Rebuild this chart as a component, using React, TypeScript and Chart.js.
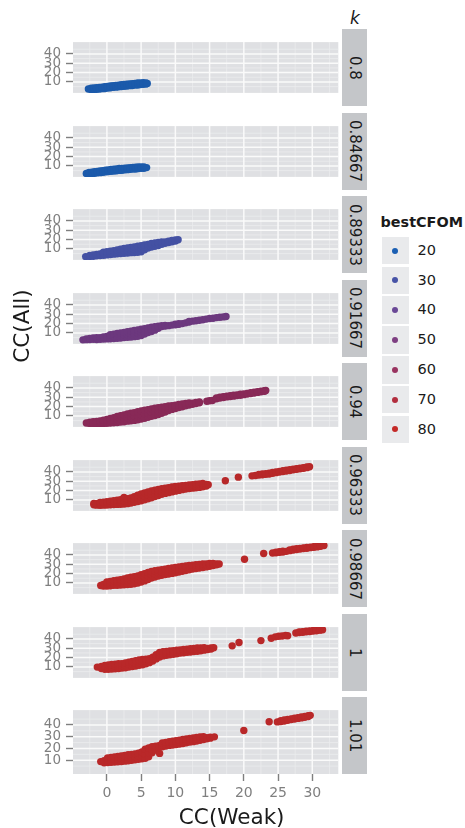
import React, { useEffect, useRef } from "react";
import { Chart, registerables } from "chart.js";
Chart.register(...registerables);

// ---- data (rows: [CC(Weak), CC(All) values...]) ----
const kLabels = ["0.8", "0.84667", "0.89333", "0.91667", "0.94", "0.96333", "0.98667", "1", "1.01"];
const panelColors = ["#1b5aab", "#1b5aab", "#4451a3", "#6c387e", "#882957", "#b72829", "#b92829", "#b92829", "#b92829"];
const xTicks = [0, 5, 10, 15, 20, 25, 30];
const yTicks = [10, 20, 30, 40];
const legendValues = ["20", "30", "40", "50", "60", "70", "80"];
const legendColors = ["#1b5fb3", "#4753a6", "#6a4896", "#7e3f82", "#993360", "#b22e3e", "#c42a28"];

const k0800 = [
  [-2.7, 2.4], [-2.3, 1.8, 3.2], [-1.9, 2.0, 3.6], [-1.5, 2.2, 3.8], [-1.1, 2.4, 4.2], [-0.7, 2.8, 4.4],
  [-0.3, 3.0, 4.8], [0.1, 3.4, 5.2], [0.5, 3.8, 5.6], [0.9, 4.2, 6.0], [1.3, 4.4, 6.2], [1.7, 4.8, 6.6],
  [2.1, 5.0, 7.0], [2.5, 5.4, 7.2], [2.9, 5.6, 7.6], [3.3, 6.0, 7.8], [3.7, 6.2, 8.2], [4.1, 6.6, 8.4],
  [4.5, 6.8, 8.8], [4.9, 7.2, 9.0], [5.3, 7.4, 9.2], [5.7, 7.8, 8.8], [5.9, 8.4],
];
const k0847 = [
  [-3.0, 2.0], [-2.6, 1.8, 3.0], [-2.2, 2.0, 3.4], [-1.8, 2.2, 3.8], [-1.4, 2.6, 4.2], [-1.0, 2.8, 4.6],
  [-0.6, 3.2, 5.0], [-0.2, 3.6, 5.4], [0.2, 4.0, 5.8], [0.6, 4.2, 6.2], [1.0, 4.6, 6.6], [1.4, 4.8, 6.8],
  [1.8, 5.2, 7.2], [2.2, 5.4, 7.4], [2.6, 5.8, 7.6], [3.0, 6.0, 7.8], [3.4, 6.4, 8.0], [3.8, 6.6, 8.4],
  [4.2, 6.8, 8.6], [4.6, 7.2, 8.8], [5.0, 7.4, 9.0], [5.4, 7.6, 8.8], [5.8, 8.2],
];
const k0893 = [
  [-3.1, 1.8], [-2.5, 2.0, 3.0], [-2.0, 2.2, 3.6], [-1.5, 2.6, 4.0], [-1.0, 3.0, 4.6], [-0.5, 3.2, 5.0, 6.5],
  [0.0, 3.6, 5.4, 7.0], [0.5, 4.0, 6.0, 7.5], [1.0, 4.4, 6.4, 8.2], [1.5, 4.8, 7.0, 8.8], [2.0, 5.0, 7.4, 9.6],
  [2.5, 5.4, 8.0, 10.4], [3.0, 5.6, 8.4, 11.0], [3.5, 6.0, 9.0, 11.6], [4.0, 6.2, 9.4, 12.2],
  [4.5, 6.4, 10.0, 13.0], [5.0, 7.0, 10.4, 13.6], [5.5, 9.2, 12.0, 14.2], [6.0, 11.0, 13.4, 14.8],
  [6.5, 12.0, 14.4, 15.8], [7.0, 12.8, 15.0, 16.4], [7.5, 13.6, 15.6, 17.0], [8.0, 15.0, 16.6, 17.6],
  [8.5, 16.0, 17.6], [9.0, 16.8, 18.4], [9.5, 17.6, 19.0], [10.0, 18.4, 19.6], [10.4, 19.8],
];
const k0917 = [
  [-3.5, 2.6], [-3.0, 2.8, 3.6], [-2.5, 3.0, 4.2], [-2.0, 3.2, 4.6], [-1.5, 3.0, 4.8], [-1.0, 3.2, 5.0],
  [-0.5, 3.4, 5.6], [0.0, 3.6, 6.2], [0.5, 3.8, 6.6, 8.0], [1.0, 4.0, 6.8, 8.6], [1.5, 4.2, 7.0, 9.4],
  [2.0, 4.6, 7.6, 10.0], [2.5, 5.0, 8.0, 10.6], [3.0, 5.4, 8.4, 11.2], [3.5, 5.6, 9.0, 11.8],
  [4.0, 6.0, 9.4, 12.6], [4.5, 6.4, 10.0, 13.2], [5.0, 7.2, 10.6, 14.0], [5.5, 8.8, 11.6, 14.6],
  [6.0, 10.4, 12.6, 15.4], [6.5, 11.6, 13.6, 16.2], [7.0, 13.0, 14.8, 16.8], [7.5, 15.0, 17.2],
  [8.0, 16.8, 17.8], [8.5, 17.4, 18.0], [9.0, 17.8], [9.5, 18.4], [10.0, 18.8, 19.4], [10.5, 19.2, 19.8],
  [11.0, 20.0], [11.5, 20.8], [12.0, 21.6, 22.2], [12.5, 22.6], [13.0, 23.0], [13.5, 23.6], [14.0, 24.2],
  [14.5, 24.8], [15.0, 25.4], [15.5, 25.8], [16.0, 26.4], [16.5, 26.8], [17.0, 27.2], [17.4, 27.6],
];
const k0940 = [
  [-3.0, 2.4], [-2.5, 2.0, 3.4], [-2.0, 1.8, 3.8], [-1.5, 2.0, 4.2], [-1.0, 1.8, 3.0, 4.6], [-0.5, 2.0, 3.6, 5.4],
  [0.0, 2.2, 4.2, 6.2], [0.5, 2.4, 4.8, 7.2], [1.0, 2.6, 5.4, 8.2], [1.5, 3.0, 6.2, 9.4], [2.0, 3.4, 6.8, 10.2],
  [2.5, 3.8, 7.6, 11.0], [3.0, 4.4, 8.4, 12.0], [3.5, 4.8, 9.2, 12.8], [4.0, 5.2, 9.8, 13.6],
  [4.5, 5.8, 10.6, 14.6], [5.0, 6.6, 11.4, 15.4], [5.5, 7.6, 12.4, 16.2], [6.0, 8.6, 13.2, 16.8],
  [6.5, 9.6, 14.0, 17.6], [7.0, 10.4, 14.6, 18.2], [7.5, 11.6, 15.6, 18.8], [8.0, 12.8, 16.4, 19.4],
  [8.5, 14.2, 17.2, 20.0], [9.0, 15.8, 18.2, 20.6], [9.5, 17.0, 19.0, 21.0], [10.0, 18.0, 20.0, 21.6],
  [10.5, 19.0, 20.6, 22.2], [11.0, 19.8, 21.4, 22.8], [11.5, 20.8, 22.2, 23.4], [12.0, 21.6, 23.0, 24.0],
  [12.5, 22.4, 23.6], [13.0, 23.2, 24.4], [13.5, 24.0, 25.0], [14.6, 25.8], [15.0, 26.2], [15.4, 26.6],
  [16.0, 28.4, 29.2], [16.5, 29.2, 30.0], [17.0, 29.8, 30.6], [17.5, 30.4, 31.2], [18.0, 30.8, 31.6],
  [18.5, 31.2, 32.2], [19.0, 31.8, 32.6], [19.5, 32.2, 33.2], [20.0, 32.8, 33.6], [20.5, 33.4, 34.2],
  [21.0, 34.0, 34.8], [21.5, 34.6, 35.4], [22.0, 35.2, 36.0], [22.5, 35.8, 36.6], [23.0, 36.4, 37.0], [23.2, 37.2],
];
const k0963 = [
  [-1.9, 4.8, 6.2], [-1.5, 4.4, 6.0], [-1.0, 4.2, 5.8, 7.4], [-0.5, 4.4, 6.0, 7.6], [0.0, 4.6, 6.4, 8.2],
  [0.5, 4.8, 6.8, 8.6], [1.0, 5.0, 7.2, 9.2], [1.5, 5.2, 7.6, 9.6], [2.0, 5.4, 8.0, 10.2], [2.5, 5.6, 8.6, 12.6],
  [3.0, 6.0, 9.0, 11.2], [3.5, 6.6, 9.8, 12.0], [4.0, 7.4, 10.8, 13.4], [4.5, 8.2, 12.0, 15.0],
  [5.0, 9.2, 13.2, 16.4], [5.5, 10.2, 14.2, 17.6], [6.0, 11.2, 15.0, 18.6], [6.5, 12.4, 16.0, 19.6],
  [7.0, 13.6, 17.0, 20.4], [7.5, 14.8, 18.0, 21.2], [8.0, 16.0, 19.0, 22.0], [8.5, 17.0, 19.8, 22.6],
  [9.0, 17.8, 20.6, 23.2], [9.5, 18.6, 21.2, 23.8], [10.0, 19.4, 21.8, 24.4], [10.5, 20.2, 22.4, 24.8],
  [11.0, 21.0, 23.0, 25.2], [11.5, 21.6, 23.6, 25.6], [12.0, 22.2, 24.2, 26.0], [12.5, 22.6, 24.6, 26.4],
  [13.0, 23.0, 25.0, 26.8], [13.5, 23.4, 25.4, 27.2], [14.0, 24.0, 25.8, 27.6], [14.5, 25.0, 26.6], [14.8, 26.2],
  [17.3, 30.5], [19.2, 34.4], [21.2, 35.8], [21.7, 36.2], [22.2, 36.6, 37.4], [22.7, 37.0, 37.8],
  [23.2, 37.4, 38.2], [23.7, 37.8, 38.6], [24.2, 38.6, 39.4], [24.7, 39.2, 40.0], [25.2, 39.8, 40.6],
  [25.7, 40.4, 41.2], [26.2, 41.0, 41.8], [26.7, 41.6, 42.4], [27.2, 42.2, 43.0], [27.7, 42.8, 43.4],
  [28.2, 43.4, 44.0], [28.7, 44.0, 44.6], [29.2, 44.6, 45.2], [29.6, 45.6],
];
const k0987 = [
  [-0.9, 7.2], [-0.5, 6.6, 8.4], [0.0, 6.8, 9.2, 11.0], [0.5, 7.0, 9.6, 11.6], [1.0, 7.4, 10.0, 12.4],
  [1.5, 7.6, 10.6, 13.0], [2.0, 7.8, 11.2, 13.6], [2.5, 8.0, 11.8, 14.4], [3.0, 8.2, 12.4, 15.4],
  [3.5, 8.6, 13.0, 16.2], [4.0, 9.2, 13.6, 16.8], [4.5, 10.0, 14.4, 17.6], [5.0, 11.0, 15.4, 18.8],
  [5.5, 12.2, 16.6, 20.0], [6.0, 13.6, 17.8, 21.2], [6.5, 15.2, 18.8, 22.2], [7.0, 16.4, 19.8, 23.0],
  [7.5, 17.4, 20.6, 23.6], [8.0, 18.2, 21.4, 24.2], [8.5, 19.0, 22.2, 24.8], [9.0, 19.6, 22.8, 25.4],
  [9.5, 20.2, 23.4, 26.0], [10.0, 20.8, 24.0, 26.6], [10.5, 21.6, 24.6, 27.2], [11.0, 22.4, 25.2, 27.6],
  [11.5, 23.2, 25.8, 28.2], [12.0, 24.0, 26.4, 28.6], [12.5, 24.8, 27.0, 29.0], [13.0, 25.4, 27.6, 29.4],
  [13.5, 26.0, 28.0, 29.8], [14.0, 26.6, 28.4, 30.2], [14.5, 27.2, 28.8, 30.4], [15.0, 27.8, 29.2, 30.8],
  [15.5, 28.6, 29.8, 31.0], [16.0, 29.4, 30.4], [16.4, 30.2],
  [20.1, 35.3], [22.9, 41.6], [24.2, 42.0], [24.7, 42.4, 43.0], [25.2, 42.8, 43.4], [25.7, 43.2, 44.0],
  [26.2, 43.8], [26.7, 44.6, 45.4], [27.2, 45.2, 46.0], [27.7, 45.8, 46.6], [28.2, 46.4, 47.0],
  [28.7, 46.8, 47.6], [29.2, 47.2, 48.0], [29.7, 47.8, 48.4], [30.2, 48.2, 48.8], [30.7, 48.6, 49.4],
  [31.2, 49.2, 49.8], [31.7, 50.0],
];
const k1000 = [
  [-1.4, 9.8], [-0.8, 8.2, 10.4], [-0.3, 7.6, 9.8, 11.6], [0.2, 7.4, 10.0, 12.0], [0.7, 7.8, 10.4, 12.6],
  [1.2, 8.0, 10.8, 13.0], [1.7, 8.4, 11.2, 13.4], [2.2, 8.8, 11.6, 13.6], [2.7, 9.2, 12.2, 14.2],
  [3.2, 9.8, 12.8, 15.0], [3.7, 10.4, 13.4, 15.8], [4.2, 11.0, 14.0, 16.6], [4.7, 11.8, 14.8, 17.4],
  [5.2, 12.4, 15.4, 18.0], [5.7, 13.4, 16.2, 18.4], [6.2, 14.6, 17.0, 18.8], [6.7, 16.4, 18.4, 20.4],
  [7.2, 18.6, 20.6, 23.0], [7.7, 20.6, 22.8, 25.4], [8.2, 21.8, 24.0, 26.2], [8.7, 22.4, 24.6, 26.6],
  [9.2, 23.0, 25.0, 27.0], [9.7, 23.6, 25.6, 27.4], [10.2, 24.2, 26.0, 27.8], [10.7, 24.8, 26.6, 28.2],
  [11.2, 25.2, 27.0, 28.6], [11.7, 25.6, 27.4, 29.0], [12.2, 26.0, 27.8, 29.4], [12.7, 26.4, 28.2, 29.8],
  [13.2, 26.8, 28.6, 30.2], [13.7, 27.4, 29.0, 30.4], [14.2, 28.0, 29.4, 30.6], [14.7, 28.6, 29.8],
  [15.2, 29.2, 30.2], [15.6, 30.5],
  [18.3, 32.6], [19.3, 36.1], [22.5, 38.2], [24.0, 40.8], [24.6, 42.2], [25.1, 42.8], [25.6, 43.2],
  [26.1, 43.6], [26.4, 43.4], [27.6, 46.4], [28.1, 46.8, 47.4], [28.6, 47.2, 47.8], [29.1, 47.6, 48.2],
  [29.6, 48.0, 48.6], [30.1, 48.4, 49.0], [30.6, 48.8, 49.4], [31.1, 49.4, 49.8], [31.5, 49.8],
];
const k1010 = [
  [-0.9, 8.8], [-0.4, 7.8, 9.6], [0.1, 8.0, 10.2, 12.0], [0.6, 8.2, 10.4, 12.4], [1.1, 8.4, 10.8, 12.8],
  [1.6, 8.6, 11.2, 13.2], [2.1, 8.8, 11.6, 13.6], [2.6, 9.2, 12.0, 14.0], [3.1, 9.6, 12.4, 14.6],
  [3.6, 10.0, 12.8, 15.0], [4.1, 10.4, 13.2, 15.4], [4.6, 10.8, 13.6, 16.0], [5.1, 11.2, 14.2, 17.0],
  [5.6, 11.6, 15.0, 19.4], [6.1, 13.0, 16.6, 20.4], [6.6, 16.4, 18.8, 21.4], [7.1, 18.6, 20.4, 22.0],
  [7.7, 15.8], [7.6, 20.8, 22.4], [8.1, 21.4, 23.0, 24.6], [8.6, 22.0, 23.6, 25.2], [9.1, 22.6, 24.2, 25.8],
  [9.6, 23.0, 24.8, 26.2], [10.1, 23.4, 25.2, 26.6], [10.6, 23.8, 25.6, 27.0], [11.1, 24.2, 26.0, 27.6],
  [11.6, 24.8, 26.6, 28.0], [12.1, 25.4, 27.0, 28.6], [12.6, 25.8, 27.4, 29.0], [13.1, 26.4, 27.8, 29.4],
  [13.6, 27.0, 28.4, 29.8], [14.1, 27.6, 28.8, 30.0], [14.6, 28.2, 29.2], [15.1, 28.8, 29.6], [15.7, 29.9],
  [20.0, 35.3], [23.7, 42.8], [24.9, 42.6], [25.4, 43.0, 43.6], [25.9, 43.4, 44.2], [26.4, 44.0, 44.6],
  [26.9, 44.6, 45.2], [27.4, 45.0, 45.8], [27.9, 45.6, 46.2], [28.4, 46.0, 46.8], [28.9, 46.6, 47.2],
  [29.4, 47.2, 47.8], [29.7, 48.2],
];
const panelData = [k0800, k0847, k0893, k0917, k0940, k0963, k0987, k1000, k1010];

// ---- axis ranges / grid ----
const X_MIN = -4.95, X_MAX = 33.8;
const Y_MIN = -1.74, Y_MAX = 52.66;
const xMinor = [-2.5, 2.5, 7.5, 12.5, 17.5, 22.5, 27.5, 32.5];
const yMinor = [5, 15, 25, 35, 45];

// ---- layout ----
const PANEL_LEFT = 73;
const PANEL_RIGHT = 342;
const PANEL_TOP0 = 29.3;
const PANEL_PITCH = 83.5;
const PANEL_H = 77;
const X_AXIS_H = 36;
const TICK_GREY = "#7f7f7f";
const FONT = "'DejaVu Sans', sans-serif";

const bgPlugin = {
  id: "panelBg",
  beforeDraw(chart: any) {
    const { ctx, chartArea: a, scales } = chart;
    const xs = scales.x, ys = scales.y;
    ctx.save();
    ctx.fillStyle = "#dfe0e3";
    ctx.fillRect(a.left, a.top, a.right - a.left, a.bottom - a.top);
    ctx.strokeStyle = "#ebecee";
    ctx.lineWidth = 0.8;
    ctx.beginPath();
    xMinor.forEach((v) => { const p = xs.getPixelForValue(v); ctx.moveTo(p, a.top); ctx.lineTo(p, a.bottom); });
    yMinor.forEach((v) => { const p = ys.getPixelForValue(v); ctx.moveTo(a.left, p); ctx.lineTo(a.right, p); });
    ctx.stroke();
    ctx.strokeStyle = "#fafafa";
    ctx.lineWidth = 1.5;
    ctx.beginPath();
    xTicks.forEach((v) => { const p = xs.getPixelForValue(v); ctx.moveTo(p, a.top); ctx.lineTo(p, a.bottom); });
    yTicks.forEach((v) => { const p = ys.getPixelForValue(v); ctx.moveTo(a.left, p); ctx.lineTo(a.right, p); });
    ctx.stroke();
    ctx.restore();
  },
};

function Panel({ index }: { index: number }) {
  const ref = useRef<HTMLCanvasElement>(null);
  const showX = index === panelData.length - 1;
  const h = PANEL_H + (showX ? X_AXIS_H : 0);
  const top = PANEL_TOP0 + PANEL_PITCH * index;
  useEffect(() => {
    const pts: { x: number; y: number }[] = [];
    panelData[index].forEach((r) => {
      for (let j = 1; j < r.length; j++) pts.push({ x: r[0], y: r[j] });
    });
    const chart = new Chart(ref.current as HTMLCanvasElement, {
      type: "scatter",
      data: {
        datasets: [
          {
            data: pts,
            backgroundColor: panelColors[index],
            borderWidth: 0,
            pointRadius: 3.7,
            pointHoverRadius: 3.7,
          },
        ],
      },
      options: {
        animation: false,
        responsive: false,
        events: [],
        layout: { padding: 0 },
        plugins: { legend: { display: false }, tooltip: { enabled: false } },
        scales: {
          x: {
            type: "linear",
            min: X_MIN,
            max: X_MAX,
            display: showX,
            afterBuildTicks: (s: any) => { s.ticks = xTicks.map((v) => ({ value: v })); },
            afterFit: (s: any) => { s.height = showX ? X_AXIS_H : 0; },
            grid: { drawOnChartArea: false, drawTicks: true, tickLength: 7, tickColor: TICK_GREY, tickWidth: 1.4 },
            border: { display: false },
            ticks: { color: TICK_GREY, font: { family: FONT, size: 14 }, padding: 4, maxRotation: 0, autoSkip: false },
          },
          y: {
            type: "linear",
            min: Y_MIN,
            max: Y_MAX,
            afterBuildTicks: (s: any) => { s.ticks = yTicks.map((v) => ({ value: v })); },
            afterFit: (s: any) => { s.width = PANEL_LEFT; },
            grid: { drawOnChartArea: false, drawTicks: true, tickLength: 7, tickColor: TICK_GREY, tickWidth: 1.4 },
            border: { display: false },
            ticks: { color: TICK_GREY, font: { family: FONT, size: 13.5 }, padding: 5, autoSkip: false },
          },
        },
      },
      plugins: [bgPlugin],
    });
    return () => chart.destroy();
  }, [index]);
  return (
    <canvas
      ref={ref}
      width={PANEL_RIGHT}
      height={h}
      style={{ position: "absolute", left: 0, top, width: PANEL_RIGHT, height: h }}
    />
  );
}

export default function App() {
  return (
    <div
      style={{
        position: "absolute",
        left: 0,
        top: 0,
        width: 465,
        height: 828,
        background: "#ffffff",
        fontFamily: FONT,
        overflow: "hidden",
      }}
    >
      {kLabels.map((_, i) => (
        <Panel key={"p" + i} index={i} />
      ))}
      {kLabels.map((lab, i) => (
        <div
          key={"s" + i}
          style={{
            position: "absolute",
            left: PANEL_RIGHT,
            top: PANEL_TOP0 + PANEL_PITCH * i,
            width: 25,
            height: PANEL_H,
            background: "#c4c6c9",
            display: "flex",
            alignItems: "center",
            justifyContent: "center",
          }}
        >
          <span style={{ writingMode: "vertical-rl", fontSize: 15, color: "#1a1a1a", lineHeight: 1 }}>{lab}</span>
        </div>
      ))}
      <div
        style={{
          position: "absolute",
          left: 345,
          top: 8,
          width: 20,
          textAlign: "center",
          fontSize: 17,
          fontStyle: "italic",
          color: "#1a1a1a",
          lineHeight: "20px",
        }}
      >
        k
      </div>
      <div
        style={{
          position: "absolute",
          left: 21.7 - 60,
          top: 325.6 - 14,
          width: 120,
          height: 28,
          lineHeight: "28px",
          textAlign: "center",
          fontSize: 21.5,
          color: "#1a1a1a",
          transform: "rotate(-90deg)",
        }}
      >
        CC(All)
      </div>
      <div
        style={{
          position: "absolute",
          left: 231.7 - 80,
          top: 816.7 - 14,
          width: 160,
          height: 28,
          lineHeight: "28px",
          textAlign: "center",
          fontSize: 21.5,
          color: "#1a1a1a",
        }}
      >
        CC(Weak)
      </div>
      <div
        style={{
          position: "absolute",
          left: 380.5,
          top: 213,
          fontSize: 14.4,
          fontWeight: "bold",
          color: "#1a1a1a",
          lineHeight: "19px",
          whiteSpace: "nowrap",
        }}
      >
        bestCFOM
      </div>
      {legendValues.map((v, j) => (
        <React.Fragment key={"l" + j}>
          <div
            style={{
              position: "absolute",
              left: 381.7,
              top: 236.7 + 29.8 * j,
              width: 27.6,
              height: 27.8,
              background: "#e9eaec",
            }}
          >
            <div
              style={{
                position: "absolute",
                left: 27.6 / 2 - 3,
                top: 27.8 / 2 - 3,
                width: 6,
                height: 6,
                borderRadius: 3,
                background: legendColors[j],
              }}
            />
          </div>
          <div
            style={{
              position: "absolute",
              left: 417.5,
              top: 236.7 + 29.8 * j,
              height: 27.8,
              lineHeight: "27.8px",
              fontSize: 14.5,
              color: "#1a1a1a",
            }}
          >
            {v}
          </div>
        </React.Fragment>
      ))}
    </div>
  );
}
